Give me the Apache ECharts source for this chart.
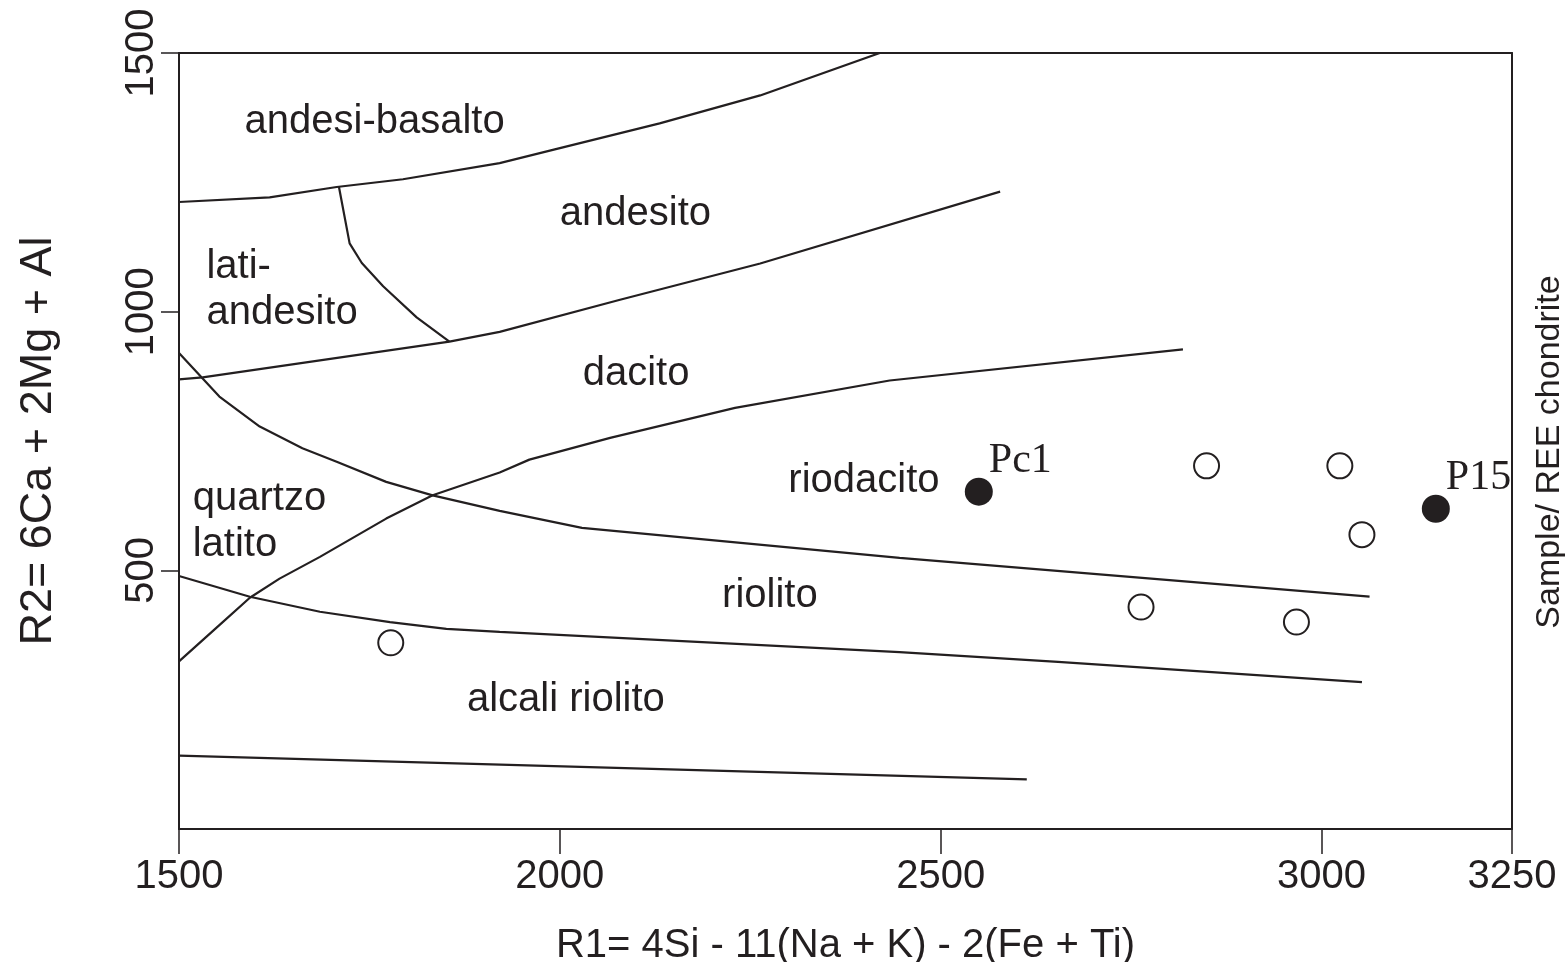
<!DOCTYPE html>
<html>
<head>
<meta charset="utf-8">
<script src="https://cdn.jsdelivr.net/npm/echarts@6/dist/echarts.min.js"></script>
<style>
  html, body { margin: 0; padding: 0; background: #ffffff; }
  #chart { width: 1565px; height: 962px; }
</style>
</head>
<body>
<div id="chart"></div>
<script>
// R1–R2 classification diagram (De la Roche et al.)

// Axis ticks
const xTicks = [1500, 2000, 2500, 3000, 3250];
const yTicks = [500, 1000, 1500];

// Field boundaries, as [R1, R2] vertices
const andesiBasaltoBase = [[1500, 1212], [1619, 1221], [1707, 1241], [1794, 1256], [1921, 1287], [2000, 1316], [2131, 1364], [2263, 1418], [2420, 1500]];
const latiAndesitoEdge = [[1710, 1241], [1724, 1132], [1740, 1094], [1768, 1049], [1812, 989], [1855, 942]];
const andesitoBase = [[1500, 869], [1531, 873], [1855, 942], [1921, 961], [2079, 1023], [2263, 1093], [2578, 1232]];
const riodacitoBase = [[1500, 920], [1553, 836], [1606, 778], [1662, 736], [1707, 710], [1772, 671], [1833, 645], [1921, 615], [2029, 582], [2446, 524], [3063, 449]];
const dacitoBase = [[1500, 324], [1553, 394], [1593, 447], [1632, 484], [1685, 526], [1772, 600], [1833, 645], [1921, 689], [1960, 714], [2066, 756], [2230, 814], [2433, 867], [2818, 927]];
const alcaliRiolitoTop = [[1500, 489], [1593, 449], [1685, 420], [1777, 400], [1851, 387], [1921, 381], [2446, 342], [2654, 323], [3053, 284]];
const alcaliRiolitoBase = [[1500, 142], [2613, 96]];

// Field names and the [R1, R2] point where each name starts
const fieldNames = ['andesi-basalto', 'andesito', 'lati-\nandesito', 'dacito', 'riodacito', 'quartzo\nlatito', 'riolito', 'alcali riolito'];
const fieldR1 = [1586, 2000, 1536, 2030, 2300, 1518, 2213, 1878];
const fieldR2 = [1366, 1188, 1042, 880, 673, 594, 451, 250];

// Samples
const openR1 = [1778, 2763, 2967, 2849, 3024, 3053];
const openR2 = [360, 429, 400, 702, 702, 569];
const namedSamples = ['Pc1', 'P15'];
const namedR1 = [2550, 3150];
const namedR2 = [652, 619];

const INK = '#231f20';
const SANS = '"Liberation Sans", Arial, sans-serif';
const SERIF = '"Liberation Serif", "Times New Roman", serif';

function boundary(points) {
  return {
    type: 'line',
    data: points,
    showSymbol: false,
    symbol: 'none',
    silent: true,
    lineStyle: { color: INK, width: 2.2, opacity: 1 },
    z: 2
  };
}

const chart = echarts.init(document.getElementById('chart'), null, { renderer: 'canvas' });

chart.setOption({
  animation: false,
  backgroundColor: '#ffffff',
  grid: { left: 179, right: 53, top: 53, bottom: 133, containLabel: false, outerBoundsMode: 'none' },
  xAxis: [
    {
      type: 'value',
      min: 1500,
      max: 3250,
      position: 'bottom',
      name: 'R1= 4Si - 11(Na + K) - 2(Fe + Ti)',
      nameLocation: 'middle',
      nameGap: 97,
      nameTextStyle: { fontFamily: SANS, fontSize: 40, color: INK },
      axisLine: { show: true, lineStyle: { color: INK, width: 2 } },
      axisTick: { show: true, inside: false, length: 25, customValues: xTicks, lineStyle: { color: INK, width: 1.5 } },
      axisLabel: { show: true, customValues: xTicks, margin: 28, fontFamily: SANS, fontSize: 40, color: INK, formatter: v => String(v) },
      splitLine: { show: false }
    },
    {
      type: 'value',
      min: 1500,
      max: 3250,
      position: 'top',
      axisLine: { show: true, onZero: false, lineStyle: { color: INK, width: 2 } },
      axisTick: { show: false },
      axisLabel: { show: false },
      splitLine: { show: false }
    }
  ],
  yAxis: [
    {
      type: 'value',
      min: 0,
      max: 1500,
      position: 'left',
      name: 'R2= 6Ca + 2Mg + Al',
      nameLocation: 'middle',
      nameGap: 118,
      nameRotate: 90,
      nameTextStyle: { fontFamily: SANS, fontSize: 45, color: INK },
      axisLine: { show: true, onZero: false, lineStyle: { color: INK, width: 2 } },
      axisTick: { show: true, inside: false, length: 18, customValues: yTicks, lineStyle: { color: INK, width: 1.5 } },
      axisLabel: { show: true, customValues: yTicks, rotate: 90, margin: 17, fontFamily: SANS, fontSize: 40, color: INK, formatter: v => String(v) },
      splitLine: { show: false }
    },
    {
      type: 'value',
      min: 0,
      max: 1500,
      position: 'right',
      axisLine: { show: true, onZero: false, lineStyle: { color: INK, width: 2 } },
      axisTick: { show: false },
      axisLabel: { show: false },
      splitLine: { show: false }
    }
  ],
  series: [
    boundary(andesiBasaltoBase),
    boundary(latiAndesitoEdge),
    boundary(andesitoBase),
    boundary(riodacitoBase),
    boundary(dacitoBase),
    boundary(alcaliRiolitoTop),
    boundary(alcaliRiolitoBase),
    {
      type: 'scatter',
      silent: true,
      symbolSize: 0,
      itemStyle: { opacity: 1 },
      data: fieldNames.map((n, i) => ({ name: n, value: [fieldR1[i], fieldR2[i]] })),
      label: {
        show: true,
        position: 'inside',
        formatter: '{b}',
        align: 'left',
        verticalAlign: 'middle',
        fontFamily: SANS,
        fontSize: 40,
        lineHeight: 46,
        color: INK,
        opacity: 1
      },
      z: 3
    },
    {
      type: 'scatter',
      silent: true,
      symbol: 'circle',
      symbolSize: 25,
      itemStyle: { color: '#ffffff', borderColor: INK, borderWidth: 2, opacity: 1 },
      data: openR1.map((x, i) => [x, openR2[i]]),
      z: 4
    },
    {
      type: 'scatter',
      silent: true,
      symbol: 'circle',
      symbolSize: 28,
      itemStyle: { color: INK, opacity: 1 },
      data: namedSamples.map((n, i) => ({ name: n, value: [namedR1[i], namedR2[i]] })),
      label: {
        show: true,
        position: 'right',
        distance: 0,
        offset: [-4, -31],
        formatter: '{b}',
        fontFamily: SERIF,
        fontSize: 42,
        color: INK,
        opacity: 1
      },
      z: 4
    }
  ],
  graphic: [
    {
      type: 'text',
      x: 1550,
      y: 452,
      rotation: Math.PI / 2,
      silent: true,
      style: {
        text: 'Sample/ REE chondrite',
        font: '34px "Liberation Sans", Arial, sans-serif',
        fill: INK,
        textAlign: 'center',
        textVerticalAlign: 'middle'
      }
    }
  ]
});
</script>
</body>
</html>
